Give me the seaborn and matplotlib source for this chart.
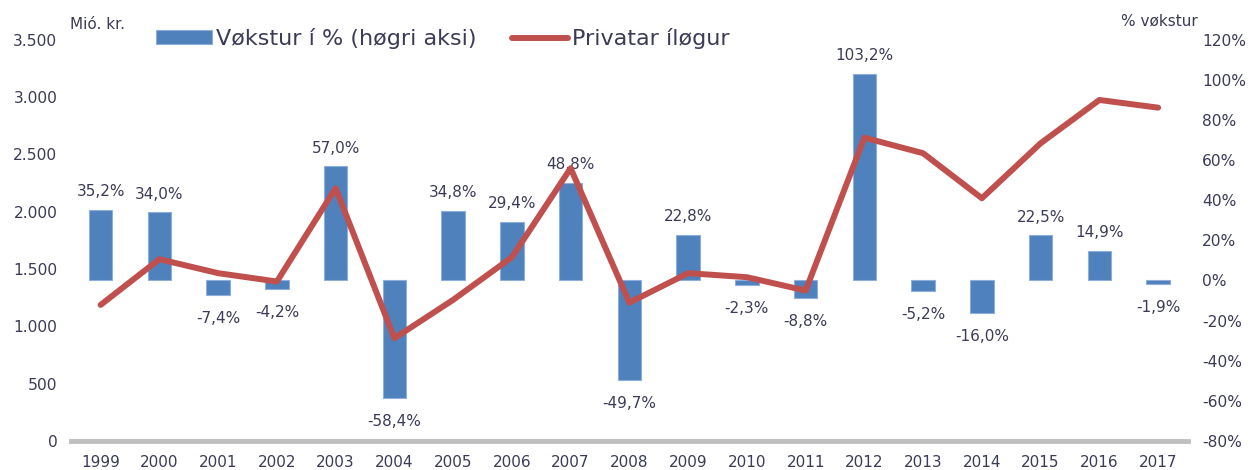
import numpy as np
import pandas as pd
import seaborn as sns
import matplotlib
matplotlib.use("Agg")
import matplotlib.pyplot as plt
from matplotlib.ticker import FuncFormatter, FixedLocator

years = ["1999", "2000", "2001", "2002", "2003", "2004", "2005", "2006", "2007", "2008",
         "2009", "2010", "2011", "2012", "2013", "2014", "2015", "2016", "2017"]
investment = [1187, 1586, 1464, 1391, 2206, 896, 1231, 1603, 2380, 1207,
              1464, 1429, 1312, 2647, 2511, 2118, 2598, 2976, 2909]
growth = [35.2, 34.0, -7.4, -4.2, 57.0, -58.4, 34.8, 29.4, 48.8, -49.7,
          22.8, -2.3, -8.8, 103.2, -5.2, -16.0, 22.5, 14.9, -1.9]

bar_name = "Vøkstur í % (høgri aksi)"
line_name = "Privatar íløgur"

txt = "#3b3b58"
blue = "#4f81bd"
red = "#c0504d"

sns.set_style("white")
plt.rcParams["font.family"] = ["DejaVu Sans"]

df = pd.DataFrame({"year": years, "growth": growth, "inv": investment})
df["pos"] = np.arange(len(years))

fig = plt.figure(figsize=(12.5, 4.7), dpi=100)
ax = fig.add_axes([0.057, 0.062, 0.893, 0.853])
ax2 = ax.twinx()

# bars on right axis
sns.barplot(data=df, x="year", y="growth", ax=ax2, color=blue, width=0.4,
            edgecolor="#8eaedb", linewidth=0.8, saturation=1)
for i, g in enumerate(growth):
    lab = f"{g:.1f}%".replace(".", ",")
    off = 13 if g >= 0 else -17
    ax2.annotate(lab, (i, g), xytext=(0, off), textcoords="offset points",
                 ha="center", va="center", fontsize=11, color=txt)

# line on left axis
sns.lineplot(data=df, x="pos", y="inv", ax=ax, color=red, linewidth=4.3,
             solid_capstyle="round")
ax.set_zorder(ax2.get_zorder() + 1)
ax.patch.set_visible(False)

ax.set_xlim(-0.5, len(years) - 0.5)
ax.set_ylim(0, 3500)
ax2.set_ylim(-80, 120)
ax.yaxis.set_major_locator(FixedLocator(np.arange(0, 3501, 500)))
ax.yaxis.set_major_formatter(FuncFormatter(lambda v, p: f"{int(v):,}".replace(",", ".")))
ax2.yaxis.set_major_locator(FixedLocator(np.arange(-80, 121, 20)))
ax2.yaxis.set_major_formatter(FuncFormatter(lambda v, p: f"{int(v)}%"))

ax.set_xticks(df["pos"])
ax.set_xticklabels(years)
ax2.set_xlabel("")
ax2.set_ylabel("")
ax.set_xlabel("")
ax.set_ylabel("")

for a in (ax, ax2):
    for s in a.spines.values():
        s.set_visible(False)
    a.tick_params(length=0, labelsize=11.2, colors=txt)
    a.grid(False)
ax.tick_params(axis="y", pad=10)
ax2.tick_params(axis="y", pad=10.5)
ax.tick_params(axis="x", pad=10, labelsize=11)
ax.spines["bottom"].set_visible(True)
ax.spines["bottom"].set_color("#bfbfbf")
ax.spines["bottom"].set_linewidth(3.5)
ax.set_xticks([-0.5], minor=True)
ax.tick_params(axis="x", which="minor", length=6, width=2.5, color="#bfbfbf", direction="inout")

fig.text(0.056, 0.948, "Mió. kr.", fontsize=11, color=txt, ha="left", va="center")
fig.text(0.958, 0.955, "% vøkstur", fontsize=11, color=txt, ha="right", va="center")

h1 = ax2.patches[0]
h2 = ax.get_lines()[0]
fig.legend([h1, h2], [bar_name, line_name], loc="center left",
           bbox_to_anchor=(0.125, 0.918), ncol=2, frameon=False, fontsize=16,
           labelcolor=txt, borderpad=0, borderaxespad=0, handlelength=2.5,
           handleheight=0.6, handletextpad=0.2, columnspacing=1.6)

fig.savefig("out.png", dpi=100)
